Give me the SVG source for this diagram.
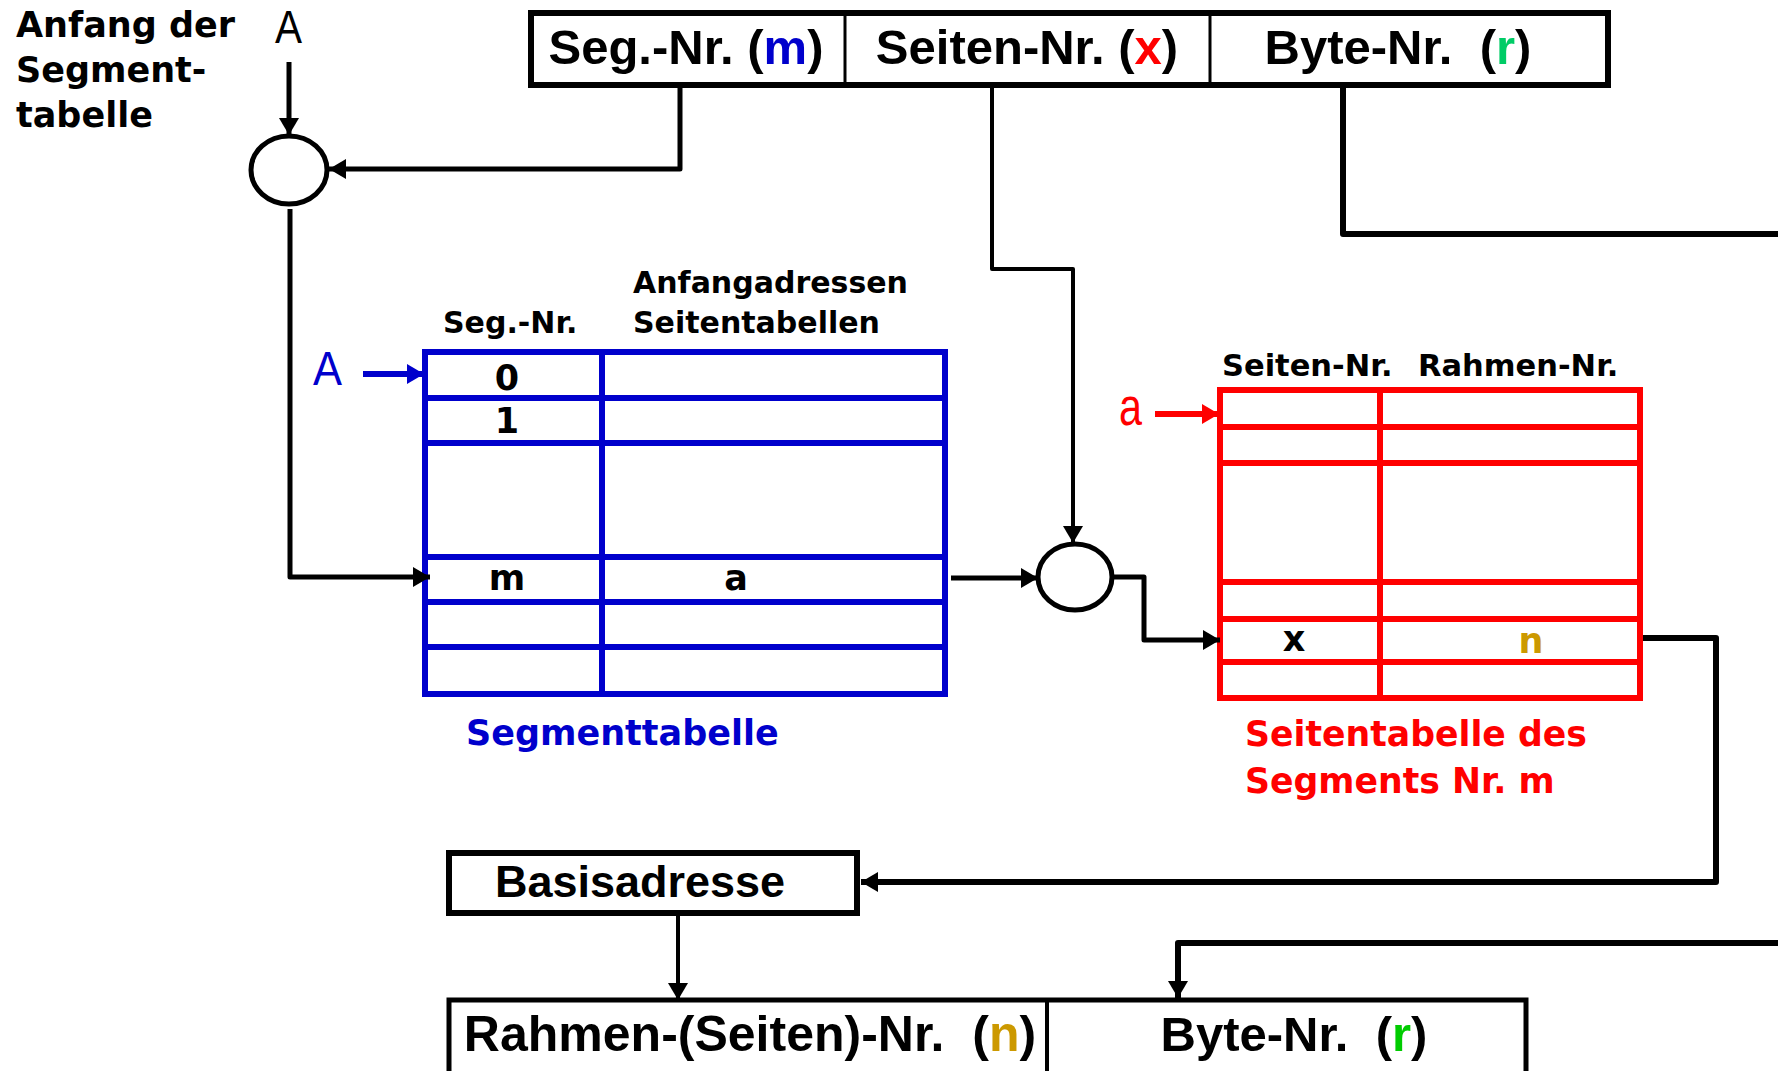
<svg xmlns="http://www.w3.org/2000/svg" width="1778" height="1071" viewBox="0 0 1778 1071">
<style>
.box{fill:#fff;stroke:#000;stroke-width:6}
.div{stroke:#000;stroke-width:3}
.bt{font-family:"Liberation Sans",Arial,sans-serif;font-weight:bold;fill:#000}
.lb{font-family:"DejaVu Sans",sans-serif;font-weight:bold;fill:#000}
.thin{font-family:"Liberation Sans",Arial,sans-serif;font-weight:normal}
.con{fill:none;stroke:#000;stroke-width:5;stroke-linejoin:round}
.blue{stroke:#0000CC}
.red{stroke:#FF0000}
.tbl{fill:#fff;stroke-width:6}
.tl{stroke-width:6}
</style>
<defs>
<marker id="ah" markerUnits="userSpaceOnUse" markerWidth="19" markerHeight="21" refX="17" refY="10" orient="auto"><path d="M0,0 L17,10 L0,20 z" fill="#000"/></marker>
<marker id="ahb" markerUnits="userSpaceOnUse" markerWidth="19" markerHeight="21" refX="17" refY="10" orient="auto"><path d="M0,0 L17,10 L0,20 z" fill="#0000CC"/></marker>
<marker id="ahr" markerUnits="userSpaceOnUse" markerWidth="19" markerHeight="21" refX="17" refY="10" orient="auto"><path d="M0,0 L17,10 L0,20 z" fill="#FF0000"/></marker>
</defs>
<rect width="1778" height="1071" fill="#fff"/>

<g id="label-anfang">
<text class="lb" x="16" y="37" font-size="35">Anfang der</text>
<text class="lb" x="16" y="82" font-size="35">Segment-</text>
<text class="lb" x="16" y="127" font-size="35">tabelle</text>
</g>
<g id="label-A"><text class="thin" x="275" y="43" font-size="46" textLength="27" lengthAdjust="spacingAndGlyphs" fill="#000">A</text></g>

<g id="address-box">
<rect class="box" x="531" y="13" width="1077" height="72"/>
<line class="div" x1="845" y1="13" x2="845" y2="85"/>
<line class="div" x1="1210" y1="13" x2="1210" y2="85"/>
<text class="bt" x="686" y="64" font-size="49" text-anchor="middle">Seg.-Nr. (<tspan fill="#0000CC">m</tspan>)</text>
<text class="bt" x="1027" y="64" font-size="49" text-anchor="middle">Seiten-Nr. (<tspan fill="#FF0000">x</tspan>)</text>
<text class="bt" x="1398" y="64" font-size="49" text-anchor="middle" xml:space="preserve">Byte-Nr.  (<tspan fill="#00CC66">r</tspan>)</text>
</g>

<g id="adder1"><ellipse cx="289" cy="170" rx="38" ry="34" fill="#fff" stroke="#000" stroke-width="5"/></g>
<g id="adder2"><ellipse cx="1075" cy="577" rx="37" ry="33" fill="#fff" stroke="#000" stroke-width="5"/></g>

<g id="segmenttabelle">
<text class="lb" x="443" y="333" font-size="30">Seg.-Nr.</text>
<text class="lb" x="633" y="293" font-size="30">Anfangadressen</text>
<text class="lb" x="633" y="333" font-size="30">Seitentabellen</text>
<rect class="tbl blue" x="425" y="352" width="520" height="342"/>
<g class="blue tl">
<line x1="425" y1="398" x2="945" y2="398"/>
<line x1="425" y1="443" x2="945" y2="443"/>
<line x1="425" y1="557" x2="945" y2="557"/>
<line x1="425" y1="602" x2="945" y2="602"/>
<line x1="425" y1="647" x2="945" y2="647"/>
<line x1="602" y1="352" x2="602" y2="694"/>
</g>
<text class="lb" x="507" y="390" font-size="35" text-anchor="middle">0</text>
<text class="lb" x="507" y="433" font-size="35" text-anchor="middle">1</text>
<text class="lb" x="507" y="590" font-size="35" text-anchor="middle">m</text>
<text class="lb" x="736" y="590" font-size="35" text-anchor="middle">a</text>
<text class="lb" x="466" y="745" font-size="35" style="fill:#0000CC">Segmenttabelle</text>
<text class="thin" x="313" y="385" font-size="49" textLength="29" lengthAdjust="spacingAndGlyphs" fill="#0000CC">A</text>
</g>

<g id="seitentabelle">
<text class="lb" x="1222" y="376" font-size="30.5">Seiten-Nr.</text>
<text class="lb" x="1418" y="376" font-size="30.5">Rahmen-Nr.</text>
<rect class="tbl red" x="1220" y="390" width="420" height="308"/>
<g class="red tl">
<line x1="1220" y1="427" x2="1640" y2="427"/>
<line x1="1220" y1="463" x2="1640" y2="463"/>
<line x1="1220" y1="582" x2="1640" y2="582"/>
<line x1="1220" y1="619" x2="1640" y2="619"/>
<line x1="1220" y1="662" x2="1640" y2="662"/>
<line x1="1380" y1="390" x2="1380" y2="698"/>
</g>
<text class="lb" x="1294" y="651" font-size="35" text-anchor="middle">x</text>
<text class="lb" x="1531" y="653" font-size="35" text-anchor="middle" style="fill:#CC9900">n</text>
<text class="lb" x="1245" y="746" font-size="34.7" style="fill:#FF0000">Seitentabelle des</text>
<text class="lb" x="1245" y="793" font-size="34.7" style="fill:#FF0000">Segments Nr. m</text>
<text class="thin" x="1119" y="425" font-size="54" textLength="23" lengthAdjust="spacingAndGlyphs" fill="#FF0000">a</text>
</g>

<g id="basisadresse">
<rect class="box" x="449" y="853" width="408" height="60"/>
<text class="bt" x="640" y="897" font-size="45" text-anchor="middle">Basisadresse</text>
</g>

<g id="physical-address">
<rect class="box" x="449" y="1000" width="1077" height="74" style="stroke-width:5"/>
<line class="div" x1="1047" y1="1000" x2="1047" y2="1071" style="stroke-width:4"/>
<text class="bt" x="750" y="1051" font-size="50" text-anchor="middle" xml:space="preserve">Rahmen-(Seiten)-Nr.  (<tspan fill="#CC9900">n</tspan>)</text>
<text class="bt" x="1294" y="1051" font-size="49" text-anchor="middle" xml:space="preserve">Byte-Nr.  (<tspan fill="#00CC00">r</tspan>)</text>
</g>

<g id="connectors">
<polyline class="con" points="289,62 289,135" marker-end="url(#ah)"/>
<polyline class="con" points="680,88 680,169 329,169" marker-end="url(#ah)"/>
<polyline class="con" points="290,209 290,577 430,577" marker-end="url(#ah)"/>
<polyline class="con" points="992,88 992,269 1073,269 1073,543" style="stroke-width:4" marker-end="url(#ah)"/>
<polyline class="con" points="951,578 1038,578" marker-end="url(#ah)"/>
<polyline class="con" points="1113,577 1144,577 1144,640 1220,640" marker-end="url(#ah)"/>
<polyline class="con" points="1343,88 1343,234 1778,234" style="stroke-width:6"/>
<polyline class="con" points="1643,638 1716,638 1716,882 861,882" style="stroke-width:6" marker-end="url(#ah)"/>
<polyline class="con" points="678,916 678,1000" style="stroke-width:4" marker-end="url(#ah)"/>
<polyline class="con" points="1778,943 1178,943 1178,998" style="stroke-width:6" marker-end="url(#ah)"/>
<polyline class="con" points="363,374 424,374" style="stroke:#0000CC;stroke-width:6" marker-end="url(#ahb)"/>
<polyline class="con" points="1155,414 1219,414" style="stroke:#FF0000;stroke-width:6" marker-end="url(#ahr)"/>
</g>
</svg>
